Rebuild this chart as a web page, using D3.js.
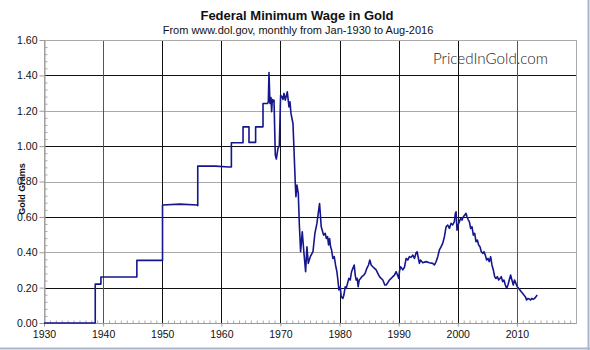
<!DOCTYPE html>
<html>
<head>
<meta charset="utf-8">
<script src="https://cdn.jsdelivr.net/npm/d3@7"></script>
<style>
  html, body { margin: 0; padding: 0; background: #ffffff; }
  svg { display: block; font-family: "Liberation Sans", Arial, sans-serif; }
</style>
</head>
<body>
<svg id="chart" width="590" height="350"></svg>
<script>
// ---- data (decimal year, gold grams) ----
const years = [
  1930.0, 1938.67, 1938.67, 1939.63, 1939.63, 1945.71, 1945.71, 1950.05, 1950.05, 1953.0, 1955.9, 1956.01,
  1956.01, 1959.0, 1961.3, 1961.7, 1961.7, 1963.67, 1963.67, 1964.68, 1964.68, 1965.8, 1965.8, 1967.05,
  1967.05, 1967.8, 1967.95, 1968.06,
  1968.23, 1968.40, 1968.51, 1968.63, 1968.80, 1968.91, 1969.13, 1969.30, 1969.58, 1969.81,
  1970.03, 1970.26, 1970.43, 1970.60, 1970.82, 1971.16, 1971.44, 1971.61, 1971.78, 1972.12,
  1972.23, 1972.51, 1972.62, 1972.79, 1973.02, 1973.19, 1973.41, 1973.69, 1973.98, 1974.26,
  1974.48, 1974.71, 1975.05, 1975.50, 1975.83, 1976.17, 1976.62,
  1976.90, 1977.30, 1977.58, 1977.75, 1977.97, 1978.14, 1978.31, 1978.48, 1978.65, 1978.87,
  1979.10, 1979.32, 1979.55, 1979.72, 1979.89, 1980.11, 1980.28, 1980.56, 1980.73, 1980.96,
  1981.12, 1981.35, 1981.57, 1981.80, 1982.03, 1982.25, 1982.48, 1982.65, 1982.81, 1982.98,
  1983.15, 1983.32, 1983.55, 1983.77, 1984.11, 1984.33, 1984.62, 1984.90, 1985.12, 1985.35,
  1985.63, 1985.91, 1986.19, 1986.47, 1986.76, 1987.04, 1987.32, 1987.66, 1987.88, 1988.16,
  1988.44, 1988.73, 1989.01, 1989.29, 1989.57, 1989.80, 1990.02, 1990.13, 1990.30, 1990.53,
  1990.70, 1990.98, 1991.26, 1991.54, 1991.82, 1992.10, 1992.39, 1992.67, 1992.95, 1993.12,
  1993.34, 1993.51, 1993.68, 1994.08, 1994.64, 1995.20, 1995.76, 1996.05, 1996.33, 1996.61,
  1996.89, 1997.17, 1997.45, 1997.74, 1998.02, 1998.30, 1998.58, 1998.86, 1999.14, 1999.42,
  1999.59, 1999.71, 1999.87,
  2000.04, 2000.27, 2000.49, 2000.72, 2000.94, 2001.17, 2001.39, 2001.56, 2001.79, 2001.96,
  2002.18, 2002.41, 2002.63, 2002.86, 2003.08, 2003.31, 2003.53, 2003.76, 2003.98, 2004.21,
  2004.43, 2004.66, 2004.88, 2005.11, 2005.33, 2005.56, 2005.78, 2006.01, 2006.24, 2006.46,
  2006.69, 2006.91, 2007.14, 2007.36, 2007.59, 2007.81, 2008.04, 2008.26, 2008.49, 2008.71,
  2008.94, 2009.16, 2009.39, 2009.61, 2009.84, 2010.06, 2010.29, 2010.51, 2010.74, 2010.96,
  2011.19, 2011.42, 2011.64, 2011.87, 2012.09, 2012.32, 2012.54, 2012.77, 2012.99, 2013.22,
  2013.44
];
const grams = [
  0, 0, 0.22, 0.22, 0.26, 0.26, 0.354, 0.354, 0.667, 0.672, 0.667, 0.664,
  0.887, 0.887, 0.882, 0.882, 1.019, 1.019, 1.109, 1.109, 1.021, 1.021, 1.109, 1.109,
  1.241, 1.241, 1.25, 1.416,
  1.241, 1.275, 1.194, 1.264, 1.251, 1.260, 0.949, 0.927, 0.987, 1.002,
  1.288, 1.279, 1.264, 1.298, 1.260, 1.307, 1.222, 1.251, 1.185, 1.128,
  1.034, 0.789, 0.714, 0.780, 0.733, 0.563, 0.403, 0.516, 0.394, 0.290,
  0.431, 0.337, 0.375, 0.403, 0.507, 0.563, 0.676,
  0.544, 0.497, 0.507, 0.478, 0.488, 0.441, 0.478, 0.431, 0.413, 0.365,
  0.375, 0.328, 0.290, 0.243, 0.187, 0.205, 0.149, 0.139, 0.158, 0.205,
  0.196, 0.224, 0.252, 0.243, 0.290, 0.309, 0.328, 0.271, 0.243, 0.252,
  0.205, 0.243, 0.252, 0.262, 0.271, 0.281, 0.309, 0.328, 0.356, 0.328,
  0.318, 0.309, 0.300, 0.281, 0.262, 0.252, 0.243, 0.215, 0.215, 0.228,
  0.243, 0.252, 0.262, 0.271, 0.290, 0.271, 0.252, 0.290, 0.318, 0.309,
  0.300, 0.315, 0.365, 0.356, 0.375, 0.371, 0.384, 0.365, 0.397, 0.403,
  0.365, 0.337, 0.356, 0.341, 0.347, 0.341, 0.337, 0.328, 0.347, 0.375,
  0.413, 0.431, 0.450, 0.488, 0.544, 0.554, 0.535, 0.563, 0.554, 0.573,
  0.620, 0.629, 0.525,
  0.554, 0.573, 0.591, 0.582, 0.601, 0.610, 0.620, 0.601, 0.582, 0.573,
  0.535, 0.544, 0.497, 0.507, 0.460, 0.469, 0.441, 0.431, 0.403, 0.394,
  0.403, 0.384, 0.356, 0.365, 0.347, 0.375, 0.328, 0.300, 0.262, 0.252,
  0.262, 0.243, 0.252, 0.262, 0.234, 0.243, 0.215, 0.196, 0.215, 0.243,
  0.271, 0.243, 0.215, 0.243, 0.224, 0.205, 0.196, 0.187, 0.177, 0.168,
  0.158, 0.149, 0.130, 0.139, 0.136, 0.130, 0.139, 0.134, 0.139, 0.149,
  0.158
];
const xTickYears = [1930, 1940, 1950, 1960, 1970, 1980, 1990, 2000, 2010];
const yTickValues = [0, 0.2, 0.4, 0.6, 0.8, 1.0, 1.2, 1.4, 1.6];
const titleText = "Federal Minimum Wage in Gold";
const subtitleText = "From www.dol.gov, monthly from Jan-1930 to Aug-2016";
const yAxisTitle = "Gold Grams";
const watermark = "PricedInGold.com";

// ---- drawing ----
const svg = d3.select("#chart");
const W = 590, H = 350;
const plot = { left: 44, right: 576, top: 40, bottom: 323 };

const x = d3.scaleLinear().domain([1930, 2020]).range([plot.left, plot.right]);
const y = d3.scaleLinear().domain([0, 1.6]).range([plot.bottom, plot.top]);

// outer frame (right & bottom edges)
svg.append("line").attr("x1", W - 1.5).attr("x2", W - 1.5).attr("y1", 0).attr("y2", H)
  .attr("stroke", "#a9b6cc").attr("stroke-width", 2);
svg.append("line").attr("x1", 0).attr("x2", W).attr("y1", H - 1.5).attr("y2", H - 1.5)
  .attr("stroke", "#a9b6cc").attr("stroke-width", 2);

// horizontal gridlines (alternating black / grey)
svg.append("g").selectAll("line")
  .data(yTickValues.filter(v => v > 0 && v < 1.6))
  .join("line")
  .attr("x1", plot.left).attr("x2", plot.right)
  .attr("y1", d => Math.round(y(d)) + 0.5).attr("y2", d => Math.round(y(d)) + 0.5)
  .attr("stroke", (d, i) => i % 2 === 0 ? "#111" : "#aaa")
  .attr("stroke-width", 1);

// vertical gridlines
svg.append("g").selectAll("line")
  .data(xTickYears.filter(v => v > 1930))
  .join("line")
  .attr("x1", d => Math.round(x(d)) + 0.5).attr("x2", d => Math.round(x(d)) + 0.5)
  .attr("y1", plot.top).attr("y2", plot.bottom)
  .attr("stroke", d => (d === 1940 || d === 2010) ? "#555" : "#111")
  .attr("stroke-width", 1);

// plot border (top, right)
svg.append("rect")
  .attr("x", plot.left + 0.5).attr("y", plot.top + 0.5)
  .attr("width", plot.right - plot.left).attr("height", plot.bottom - plot.top)
  .attr("fill", "none").attr("stroke", "#aaa");

// minor ticks (inside)
const yMinor = d3.range(0, 161, 4).map(v => v / 100).filter(v => Math.round(v * 100) % 20 !== 0);
const xMinor = d3.range(1931, 2020).filter(v => v % 10 !== 0);

svg.append("g")
  .attr("transform", `translate(${plot.left + 0.5},0)`)
  .call(d3.axisRight(y).tickValues(yMinor).tickSize(3).tickFormat(""))
  .call(g => g.select(".domain").remove())
  .call(g => g.selectAll("line").attr("stroke", "#aaa"));

svg.append("g")
  .attr("transform", `translate(0,${plot.bottom + 0.5})`)
  .call(d3.axisTop(x).tickValues(xMinor).tickSize(3).tickFormat(""))
  .call(g => g.select(".domain").remove())
  .call(g => g.selectAll("line").attr("stroke", "#aaa"));

// y axis
svg.append("g")
  .attr("transform", `translate(${plot.left + 0.5},0)`)
  .call(d3.axisLeft(y).tickValues(yTickValues).tickSize(5).tickSizeOuter(0).tickPadding(2)
    .tickFormat(d3.format(".2f")))
  .call(g => g.select(".domain").attr("stroke", "#999"))
  .call(g => g.selectAll(".tick line").attr("stroke", "#999"))
  .call(g => g.selectAll("text").attr("fill", "#111").attr("font-size", 10.5)
    .attr("font-family", "'Liberation Sans', Arial, sans-serif"));

// x axis
svg.append("g")
  .attr("transform", `translate(0,${plot.bottom + 0.5})`)
  .call(d3.axisBottom(x).tickValues(xTickYears).tickSize(3).tickSizeOuter(0).tickPadding(4)
    .tickFormat(d3.format("d")))
  .call(g => g.select(".domain").attr("stroke", "#999").attr("d", `M${plot.left},0H${plot.right}`))
  .call(g => g.selectAll(".tick line").attr("stroke", "#999"))
  .call(g => g.selectAll("text").attr("fill", "#111").attr("font-size", 10.5)
    .attr("font-family", "'Liberation Sans', Arial, sans-serif"));

// data line
const data = d3.zip(years, grams);
const line = d3.line().x(d => x(d[0])).y(d => y(d[1]));
svg.append("path")
  .datum(data)
  .attr("d", line)
  .attr("fill", "none")
  .attr("stroke", "#15168c")
  .attr("stroke-width", 1.6)
  .attr("stroke-linejoin", "round");

// titles
svg.append("text").attr("x", 297).attr("y", 20).attr("text-anchor", "middle")
  .attr("font-size", 13).attr("font-weight", "bold").attr("fill", "#111").text(titleText);
svg.append("text").attr("x", 298).attr("y", 34).attr("text-anchor", "middle")
  .attr("font-size", 11).attr("fill", "#111").text(subtitleText);

// y axis title
svg.append("text")
  .attr("transform", `translate(25,189) rotate(-90)`)
  .attr("text-anchor", "middle")
  .attr("font-size", 9).attr("font-weight", "bold").attr("fill", "#111")
  .text(yAxisTitle);

// watermark
svg.append("text").attr("x", 433).attr("y", 64)
  .attr("font-family", "Lato, 'Open Sans', sans-serif").attr("font-weight", 300)
  .attr("font-size", 16).attr("fill", "#222")
  .attr("textLength", 115).attr("lengthAdjust", "spacingAndGlyphs")
  .text(watermark);
</script>
</body>
</html>
